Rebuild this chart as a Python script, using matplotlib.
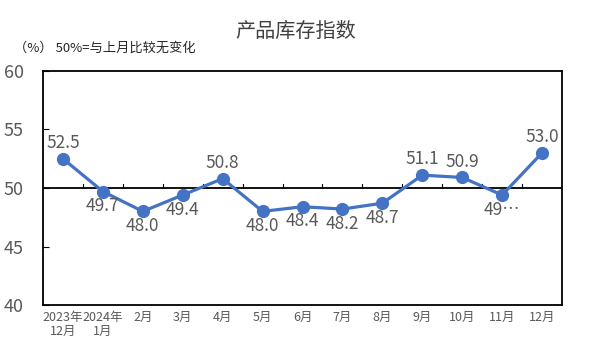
import matplotlib.pyplot as plt

plt.rcParams['font.family'] = ['Noto Sans CJK SC', 'DejaVu Sans']

# data
months = ['2023年\n12月', '2024年\n1月', '2月', '3月', '4月', '5月', '6月',
          '7月', '8月', '9月', '10月', '11月', '12月']
values = [52.5, 49.7, 48.0, 49.4, 50.8, 48.0, 48.4, 48.2, 48.7, 51.1, 50.9, 49.4, 53.0]
labels = ['52.5', '49.7', '48.0', '49.4', '50.8', '48.0', '48.4', '48.2',
          '48.7', '51.1', '50.9', '49…', '53.0']
above = [True, False, False, False, True, False, False, False, False, True, True, False, True]

fig = plt.figure(figsize=(5.91, 3.54), dpi=100)
ax = fig.add_axes([43 / 591, 1 - 305 / 354, 519 / 591, 234 / 354])

x = range(len(months))
ax.plot(x, values, color='#4472C4', lw=2.3, marker='o', ms=8.5, zorder=3)
for i, (v, t) in enumerate(zip(values, labels)):
    dy = 5 if above[i] else -4
    ax.annotate(t, (i, v), xytext=(0, dy), textcoords='offset points',
                ha='center', va='bottom' if above[i] else 'top',
                fontsize=12.5, color='#595959')

ax.axhline(50, color='black', lw=1.3, zorder=2)
for b in range(1, len(months)):
    ax.plot([b - 0.5, b - 0.5], [50, 50.35], color='black', lw=0.8)

ax.set_xlim(-0.5, len(months) - 0.5)
ax.set_ylim(40, 60)
ax.set_yticks([40, 45, 50, 55, 60])
ax.set_xticks(list(x))
ax.set_xticklabels(months, fontsize=9, color='#595959', linespacing=1.1)
ax.tick_params(axis='x', length=0, pad=4)
ax.tick_params(axis='y', direction='in', length=4, labelsize=13,
               labelcolor='#595959', pad=14)
for s in ax.spines.values():
    s.set_linewidth(1.3)
    s.set_color('black')

fig.text(0.5, 1 - 31 / 354, '产品库存指数', ha='center', va='center',
         fontsize=14.5, color='#404040')
fig.text(14 / 591, 1 - 48 / 354, '（%） 50%=与上月比较无变化', ha='left', va='center',
         fontsize=9.5, color='#262626')

fig.savefig('out.png', dpi=100)
